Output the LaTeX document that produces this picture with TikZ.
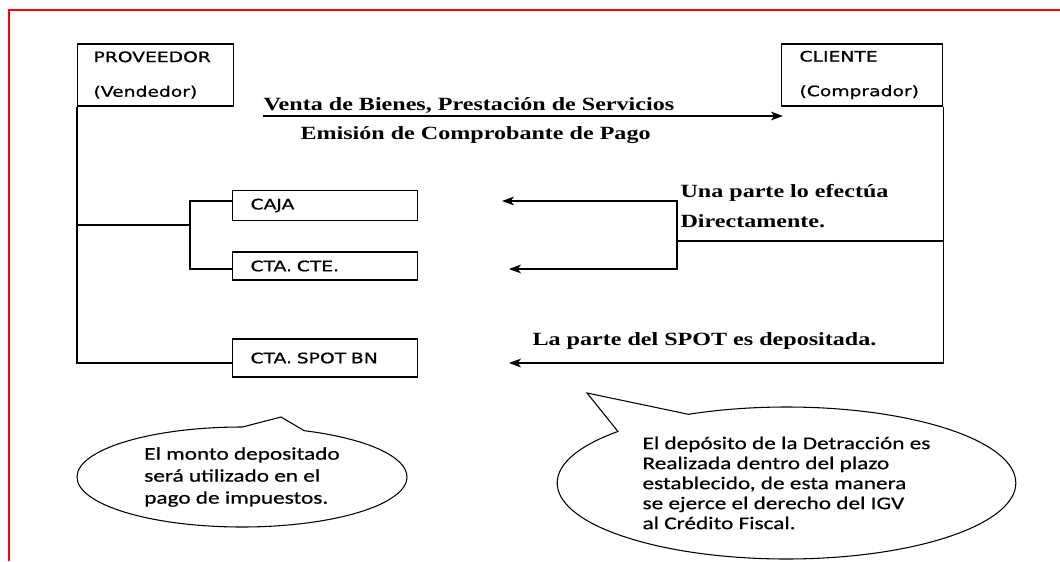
\documentclass[tikz,border=0pt]{standalone}
\usepackage{fontspec}
\setmainfont{Liberation Serif}
\newfontfamily\boxfont[FakeStretch=1.3,FakeBold=0.8]{DejaVu Sans}
\newfontfamily\notefont[FakeStretch=1.3,FakeBold=0.6]{Carlito}
\newfontfamily\flowfont[FakeStretch=1.29]{Liberation Serif}
\usetikzlibrary{arrows.meta,shapes.callouts}

\tikzset{
  party/.style={draw,rectangle,anchor=west,inner xsep=12pt,text width=93pt,minimum height=46.5pt,align=left,font=\boxfont\fontsize{10.8}{26}\selectfont},
  account/.style={draw,rectangle,anchor=west,inner xsep=13.5pt,text width=111.75pt,align=left,font=\boxfont\fontsize{10.8}{13}\selectfont},
  flow/.style={anchor=base west,inner sep=0pt,font=\flowfont\bfseries\fontsize{14}{17}\selectfont},
  note/.style={draw,ellipse callout,inner sep=0pt,align=left,callout pointer arc=22,font=\notefont\fontsize{13.4}{16.5}\selectfont}
}

\begin{document}
\begin{tikzpicture}[x=0.75pt,y=-0.75pt,thick,>={Stealth[length=9pt,width=6.5pt,inset=2.5pt]}]
\useasboundingbox (0,0) rectangle (1060,561);

% frame
\draw[red,line width=1pt] (9,561) -- (9,10) -- (1060,10);

% parties
\node[party] (prov) at (77,75) {PROVEEDOR\\(Vendedor)};
\node[party,inner xsep=13.5pt,text width=93.75pt] (cli) at (781,75) {CLIENTE\\(Comprador)};

% accounts
\node[account,minimum height=22.5pt] (caja) at (232,205.5) {CAJA};
\node[account,minimum height=21pt] (cte) at (232,266) {CTA. CTE.};
\node[account,minimum height=28.5pt] (spot) at (232,358) {CTA. SPOT BN};

% texts
\node[flow] (sale) at (263,110) {Venta de Bienes, Prestación de Servicios};
\node[flow] (voucher) at (300,139) {Emisión de Comprobante de Pago};
\node[flow] (direct) at (680,197) {Una parte lo efectúa};
\node[flow] (direct2) at (680,227) {Directamente.};
\node[flow] (deposit) at (532,345) {La parte del SPOT es depositada.};

\coordinate (saleStart) at (263,116);
\coordinate (saleEnd) at (783,116);
\coordinate (fork) at (190,225);
\coordinate (split) at (677,241);
\coordinate (cajaIn) at (502,201);
\coordinate (cteIn) at (509,269);
\coordinate (spotIn) at (509,363);

% proveedor side
\draw (prov.south west) |- ([yshift=-3.75pt]spot.west);
\draw (prov.south west |- fork) -- (fork);
\draw ([yshift=3.4pt]caja.west) -| (fork) |- ([yshift=-2.25pt]cte.west);

% cliente side
\draw[->] (saleStart) -- (saleEnd);
\draw[->] (cli.south east) |- (spotIn);
\draw (cli.south east |- split) -- (split);
\draw[->] (split) |- (cajaIn);
\draw[->] (split) |- (cteIn);

% notes
\node[note,minimum width=247.5pt,minimum height=75pt,callout absolute pointer={(281,417)}] (useNote) at (242,477) {El monto depositado\\será utilizado en el\\pago de impuestos.};
\node[note,minimum width=344pt,minimum height=114pt,font=\notefont\fontsize{13.4}{15}\selectfont,callout absolute pointer={(587,393)}] (igvNote) at (786.5,483) {El depósito de la Detracción es\\Realizada dentro del plazo\\establecido, de esta manera\\se ejerce el derecho del IGV\\al Crédito Fiscal.};
\end{tikzpicture}
\end{document}
